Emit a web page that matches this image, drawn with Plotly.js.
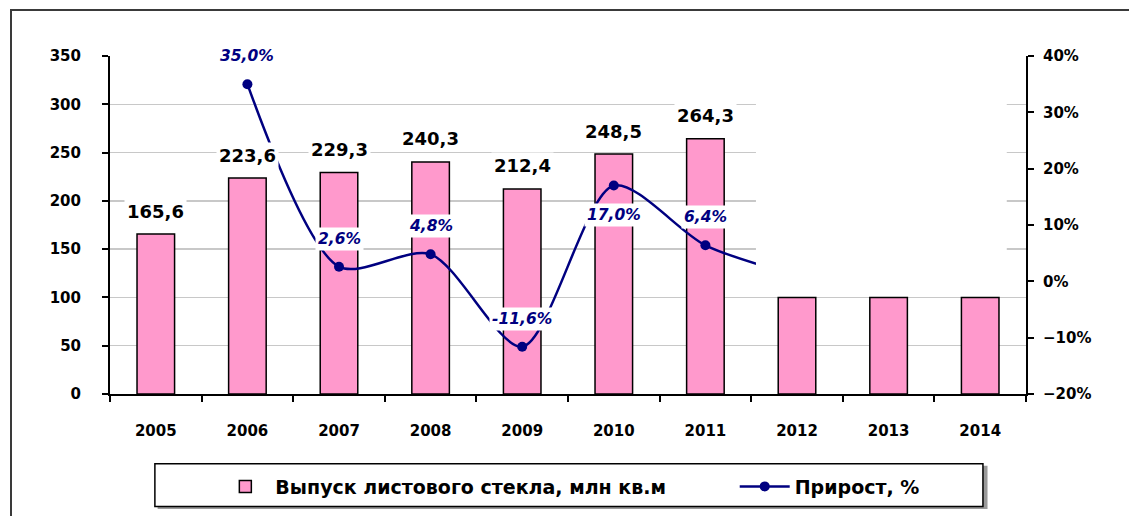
<!DOCTYPE html>
<html>
<head>
<meta charset="utf-8">
<script src="https://cdn.plot.ly/plotly-3.0.1.min.js"></script>
<style>
  html, body { margin: 0; padding: 0; background: #fff; overflow: hidden; }
  #chart { position: absolute; left: 0; top: 0; width: 1129px; height: 516px; }
  #frame { position: absolute; left: 10px; top: 9px; width: 2000px; height: 2000px;
           border: 2px solid #3a3a3a; pointer-events: none; }
</style>
</head>
<body>
<div id="chart"></div>
<div id="frame"></div>
<script>
// ---- data ----
const years = ['2005', '2006', '2007', '2008', '2009', '2010', '2011', '2012', '2013', '2014'];
const output = [165.6, 223.6, 229.3, 240.3, 212.4, 248.5, 264.3, 100, 100, 100];
const outputLabelYears = ['2005', '2006', '2007', '2008', '2009', '2010', '2011'];
const growthYears = ['2006', '2007', '2008', '2009', '2010', '2011', '2012'];
const growth = [35.0, 2.6, 4.8, -11.6, 17.0, 6.4, 1.0];
const growthLabelYears = ['2006', '2007', '2008', '2009', '2010', '2011'];
const growthBelow = ['2010'];
const seriesNames = ['Выпуск листового стекла, млн кв.м', 'Прирост, %'];

const fmt = v => v.toFixed(1).replace('.', ',');
const FONT = 'DejaVu Sans, Liberation Sans, Arial, sans-serif';

const bars = {
  type: 'bar', x: years, y: output, name: seriesNames[0], legend: 'legend',
  marker: { color: '#FF99CC', line: { color: '#000', width: 1.5 } }
};
const line = {
  type: 'scatter', mode: 'lines+markers', x: growthYears, y: growth, yaxis: 'y2',
  name: seriesNames[1], legend: 'legend2',
  line: { color: '#000080', width: 2.5, shape: 'spline', smoothing: 0.8 },
  marker: { color: '#000080', size: 10, symbol: 'circle' },
  cliponaxis: false
};

const annotations = [];
outputLabelYears.forEach(yr => {
  const i = years.indexOf(yr);
  annotations.push({
    x: i, y: output[i], xref: 'x', yref: 'y', text: fmt(output[i]),
    showarrow: false, yanchor: 'middle', yshift: 23,
    bgcolor: '#fff', borderpad: 2,
    font: { family: FONT, size: 18, color: '#000', weight: 'bold' }
  });
});
growthLabelYears.forEach(yr => {
  const i = growthYears.indexOf(yr);
  const below = growthBelow.includes(yr);
  annotations.push({
    x: years.indexOf(yr), y: growth[i], xref: 'x', yref: 'y2', text: '<i>' + fmt(growth[i]) + '%</i>',
    showarrow: false, yanchor: 'middle', yshift: below ? -29 : 28,
    bgcolor: '#fff', borderpad: 2,
    font: { family: FONT, size: 15.5, color: '#000080', weight: 'bold' }
  });
});

const legendFont = { family: FONT, size: 19, color: '#000', weight: 'bold' };
const tickFont = { family: FONT, size: 15, color: '#000', weight: 'bold' };

const layout = {
  width: 1129, height: 516,
  margin: { l: 110, r: 103, t: 56, b: 121 },
  paper_bgcolor: '#fff', plot_bgcolor: '#fff',
  separators: ', ',
  showlegend: true,
  bargap: 0.59,
  font: { family: FONT, size: 15, color: '#000', weight: 'bold' },
  xaxis: {
    type: 'category', range: [-0.5, years.length - 0.5], autorange: false,
    showline: true, linecolor: '#000', linewidth: 2,
    ticks: 'outside', tickson: 'boundaries', ticklen: 6, tickcolor: '#000', tickwidth: 2,
    showgrid: false, zeroline: false, tickfont: tickFont,
    ticklabelstandoff: 22
  },
  yaxis: {
    range: [0, 350], dtick: 50, showline: true, linecolor: '#000', linewidth: 2,
    ticks: 'outside', ticklen: 6, tickcolor: '#000', tickwidth: 2,
    showgrid: true, gridcolor: '#c8c8c8', gridwidth: 1.5, zeroline: false,
    tickfont: tickFont, ticklabelstandoff: 18
  },
  yaxis2: {
    overlaying: 'y', side: 'right', range: [-20, 40], dtick: 10, ticksuffix: '%',
    showline: true, linecolor: '#000', linewidth: 2,
    ticks: 'outside', ticklen: 6, tickcolor: '#000', tickwidth: 2,
    showgrid: false, zeroline: false, tickfont: tickFont,
    ticklabelstandoff: 6
  },
  legend: {
    orientation: 'h', x: 0.115, xanchor: 'left', y: -0.27, yanchor: 'middle',
    bgcolor: 'rgba(0,0,0,0)', borderwidth: 0, font: legendFont, itemwidth: 50
  },
  legend2: {
    orientation: 'h', x: 0.682, xanchor: 'left', y: -0.27, yanchor: 'middle',
    bgcolor: 'rgba(0,0,0,0)', borderwidth: 0, font: legendFont, itemwidth: 50
  },
  shapes: [
    // erased region of the original picture
    { type: 'rect', xref: 'paper', yref: 'paper', x0: 0.7052, x1: 0.979, y0: 0.305, y1: 1.04,
      fillcolor: '#fff', line: { width: 0 }, layer: 'above' },
    // legend box shadow and border
    { type: 'rect', xref: 'paper', yref: 'paper', x0: 0.052, x1: 0.958, y0: -0.340, y1: -0.212,
      fillcolor: '#9a9a9a', line: { width: 0 }, layer: 'below' },
    { type: 'rect', xref: 'paper', yref: 'paper', x0: 0.049, x1: 0.953, y0: -0.333, y1: -0.206,
      fillcolor: '#fff', line: { color: '#000', width: 1.5 }, layer: 'below' }
  ],
  annotations: annotations
};

Plotly.newPlot('chart', [bars, line], layout, { displayModeBar: false, staticPlot: true });
</script>
</body>
</html>
